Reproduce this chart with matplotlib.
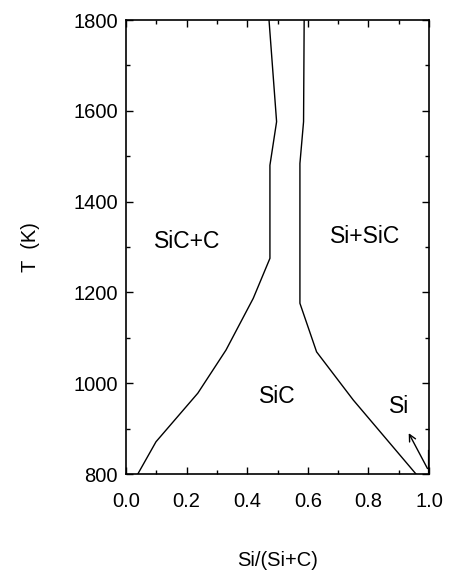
import numpy as np
import matplotlib
matplotlib.use('Agg')
import matplotlib.pyplot as plt
from matplotlib.ticker import MultipleLocator

# phase boundaries: (x = Si/(Si+C), T in K)
left_x = [0.039, 0.099, 0.237, 0.330, 0.420, 0.475, 0.475, 0.497, 0.472]
left_T = [800, 871, 978, 1073, 1187, 1275, 1480, 1576, 1800]

right_x = [0.957, 0.750, 0.629, 0.574, 0.574, 0.586, 0.588]
right_T = [800, 963, 1069, 1176, 1484, 1576, 1800]

# narrow Si field at the right edge
si_x = [1.0, 1.0]
si_T = [800, 850]

region_labels = ['SiC+C', 'Si+SiC', 'SiC', 'Si']
label_x = [0.201, 0.790, 0.499, 0.900]
label_T = [1312, 1323, 970, 948]

arrow_tail = (0.995, 812)
arrow_tip = (0.933, 890)

plt.rcParams['font.family'] = ['Liberation Sans', 'DejaVu Sans']

fig = plt.figure(figsize=(4.49, 5.71), dpi=100)
ax = fig.add_axes([126 / 449, 1 - 474 / 571, 303 / 449, 454 / 571])

ax.plot(left_x, left_T, color='black', lw=1.0)
ax.plot(right_x, right_T, color='black', lw=1.0)
ax.plot(si_x, si_T, color='black', lw=1.6)

for txt, x, t in zip(region_labels, label_x, label_T):
    ax.text(x, t, txt, ha='center', va='center', fontsize=16.5)

ax.annotate('', xy=arrow_tip, xytext=arrow_tail,
            arrowprops=dict(arrowstyle='->', lw=1.0, color='black',
                            mutation_scale=12, shrinkA=0, shrinkB=0))

ax.set_xlim(0.0, 1.0)
ax.set_ylim(800, 1800)
ax.xaxis.set_major_locator(MultipleLocator(0.2))
ax.xaxis.set_minor_locator(MultipleLocator(0.1))
ax.yaxis.set_major_locator(MultipleLocator(200))
ax.yaxis.set_minor_locator(MultipleLocator(100))
ax.xaxis.set_major_formatter(plt.FormatStrFormatter('%.1f'))

ax.tick_params(which='both', direction='in', top=True, right=True,
               labelsize=14.5, width=1.0)
ax.tick_params(which='major', length=5)
ax.tick_params(which='minor', length=3)
ax.tick_params(axis='x', which='major', pad=13)
ax.tick_params(axis='y', which='major', pad=6)
for s in ax.spines.values():
    s.set_linewidth(1.2)

ax.set_xlabel('Si/(Si+C)', fontsize=14.5, labelpad=29)
ax.set_ylabel('T  (K)', fontsize=14.5, labelpad=24)

fig.savefig('out.png', dpi=100)
